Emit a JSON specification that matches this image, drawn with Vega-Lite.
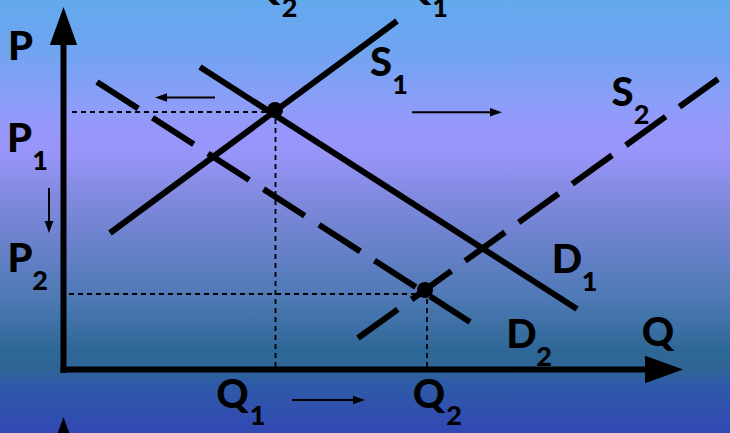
{
  "$schema": "https://vega.github.io/schema/vega-lite/v6.json",
  "width": 730,
  "height": 433,
  "autosize": {"type": "none"},
  "padding": 0,
  "config": {"view": {"stroke": null}},
  "datasets": {
    "bg": [{"q": -64, "p": -63, "q2": 666, "p2": 370}],
    "guides": [
      {"q": 8, "p": 258, "q2": 211.5, "p2": 258},
      {"q": 211.5, "p": 260, "q2": 211.5, "p2": 0},
      {"q": 5, "p": 76, "q2": 361, "p2": 76},
      {"q": 363, "p": 80, "q2": 363, "p2": 0}
    ],
    "solid": [
      {"id": "S1", "q": 46, "p": 137, "q2": 333, "p2": 349},
      {"id": "D1", "q": 136, "p": 303, "q2": 513, "p2": 61},
      {"id": "Paxis", "q": -0.5, "p": -3, "q2": -0.5, "p2": 327},
      {"id": "Qaxis", "q": -3.5, "p": 0.5, "q2": 583, "p2": 0.5}
    ],
    "dashed": [
      {"id": "D2", "q": 33, "p": 288, "q2": 406, "p2": 48},
      {"id": "S2", "q": 294, "p": 32, "q2": 654, "p2": 291}
    ],
    "shafts": [
      {"q": -15, "p": 182, "q2": -15, "p2": 143},
      {"q": 151, "p": 272.5, "q2": 97, "p2": 272.5},
      {"q": 348, "p": 257.7, "q2": 432, "p2": 257.7},
      {"q": 228, "p": -30, "q2": 295, "p2": -30}
    ],
    "heads": [
      {"q": -0.5, "p": 344, "ang": 0, "s": 1444},
      {"q": 600, "p": 0.5, "ang": 90, "s": 1444},
      {"q": -0.5, "p": -66, "ang": 0, "s": 1444},
      {"q": -15, "p": 143, "ang": 180, "s": 144},
      {"q": 97, "p": 272.5, "ang": 270, "s": 144},
      {"q": 432, "p": 257.7, "ang": 90, "s": 144},
      {"q": 295, "p": -30, "ang": 90, "s": 144}
    ],
    "dots": [{"q": 211, "p": 260}, {"q": 361, "p": 80}],
    "labels": [
      {"t": "P", "q": -43.5, "p": 310, "fs": 40},
      {"t": "P", "q": -44.5, "p": 218, "fs": 40},
      {"t": "1", "q": -24, "p": 200, "fs": 27},
      {"t": "P", "q": -44, "p": 98, "fs": 40},
      {"t": "2", "q": -24, "p": 80, "fs": 27},
      {"t": "S", "q": 317, "p": 294, "fs": 40},
      {"t": "1", "q": 336, "p": 276, "fs": 27},
      {"t": "S", "q": 558.5, "p": 264, "fs": 40},
      {"t": "2", "q": 577.5, "p": 246, "fs": 27},
      {"t": "D", "q": 503, "p": 97, "fs": 40},
      {"t": "1", "q": 525.5, "p": 79, "fs": 27},
      {"t": "D", "q": 457.5, "p": 22, "fs": 40},
      {"t": "2", "q": 480, "p": 4, "fs": 27},
      {"t": "Q", "q": 594, "p": 24, "fs": 40},
      {"t": "Q", "q": 168.5, "p": -38, "fs": 40},
      {"t": "1", "q": 193.5, "p": -55, "fs": 27},
      {"t": "Q", "q": 365, "p": -38, "fs": 40},
      {"t": "2", "q": 390, "p": -55, "fs": 27},
      {"t": "Q", "q": 200, "p": 370, "fs": 40},
      {"t": "2", "q": 225.5, "p": 353, "fs": 27},
      {"t": "Q", "q": 351, "p": 370, "fs": 40},
      {"t": "1", "q": 376, "p": 353, "fs": 27}
    ]
  },
  "encoding": {
    "x": {"field": "q", "type": "quantitative", "scale": {"domain": [-64, 666], "nice": false, "zero": false}, "axis": null},
    "y": {"field": "p", "type": "quantitative", "scale": {"domain": [-63, 370], "nice": false, "zero": false}, "axis": null}
  },
  "layer": [
    {
      "data": {"name": "bg"},
      "mark": {
        "type": "rect",
        "color": {
          "gradient": "linear", "x1": 0, "y1": 0, "x2": 0, "y2": 1,
          "stops": [
            {"offset": 0, "color": "#63A9EE"},
            {"offset": 0.12, "color": "#70A4F0"},
            {"offset": 0.23, "color": "#8A9EF8"},
            {"offset": 0.31, "color": "#9896FB"},
            {"offset": 0.36, "color": "#9795F8"},
            {"offset": 0.46, "color": "#8089DD"},
            {"offset": 0.58, "color": "#6680C8"},
            {"offset": 0.69, "color": "#4D79B4"},
            {"offset": 0.81, "color": "#2E6797"},
            {"offset": 0.85, "color": "#2E6596"},
            {"offset": 0.885, "color": "#2F5BA7"},
            {"offset": 1, "color": "#3148B4"}
          ]
        }
      },
      "encoding": {"x2": {"field": "q2"}, "y2": {"field": "p2"}}
    },
    {
      "data": {"name": "guides"},
      "mark": {"type": "rule", "color": "black", "strokeWidth": 1.8, "strokeDash": [5, 4]},
      "encoding": {"x2": {"field": "q2"}, "y2": {"field": "p2"}}
    },
    {
      "data": {"name": "solid"},
      "mark": {"type": "rule", "color": "black", "strokeWidth": 6, "strokeCap": "butt"},
      "encoding": {"x2": {"field": "q2"}, "y2": {"field": "p2"}}
    },
    {
      "data": {"name": "dashed"},
      "mark": {"type": "rule", "color": "black", "strokeWidth": 6, "strokeCap": "butt", "strokeDash": [49, 17]},
      "encoding": {"x2": {"field": "q2"}, "y2": {"field": "p2"}}
    },
    {
      "data": {"name": "shafts"},
      "mark": {"type": "rule", "color": "black", "strokeWidth": 2},
      "encoding": {"x2": {"field": "q2"}, "y2": {"field": "p2"}}
    },
    {
      "data": {"name": "heads"},
      "mark": {"type": "point", "shape": "M0,-1L0.72,1L-0.72,1Z", "filled": true, "color": "black", "opacity": 1, "strokeWidth": 0},
      "encoding": {
        "angle": {"field": "ang", "type": "quantitative", "scale": null},
        "size": {"field": "s", "type": "quantitative", "scale": null}
      }
    },
    {
      "data": {"name": "dots"},
      "mark": {"type": "point", "shape": "circle", "filled": true, "color": "black", "opacity": 1, "size": 256}
    },
    {
      "data": {"name": "labels"},
      "mark": {"type": "text", "align": "center", "baseline": "alphabetic", "font": "Lato", "fontWeight": 900, "color": "black"},
      "encoding": {
        "text": {"field": "t", "type": "nominal"},
        "size": {"field": "fs", "type": "quantitative", "scale": null}
      }
    }
  ]
}
